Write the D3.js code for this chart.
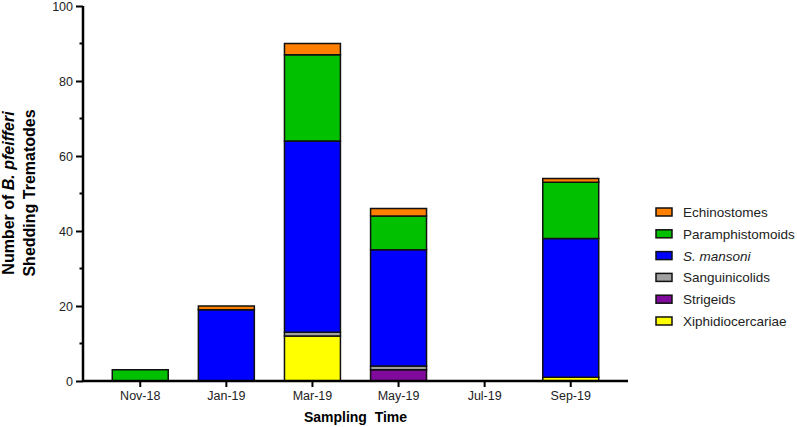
<!DOCTYPE html>
<html>
<head>
<meta charset="utf-8">
<script src="https://cdn.jsdelivr.net/npm/d3@7"></script>
<style>
  body { margin: 0; background: #fff; }
  text { font-family: "Liberation Sans", Arial, sans-serif; }
</style>
</head>
<body>
<div id="chart"></div>
<script>
"use strict";

// sampling months and trematode counts per group
const months = ["Nov-18", "Jan-19", "Mar-19", "May-19", "Jul-19", "Sep-19"];
const groups = ["Xiphidiocercariae", "Strigeids", "Sanguinicolids", "S. mansoni", "Paramphistomoids", "Echinostomes"];
const xiphidio = [0, 0, 12, 0, 0, 1];
const strigeids = [0, 0, 0, 3, 0, 0];
const sanguini = [0, 0, 1, 1, 0, 0];
const mansoni = [0, 19, 51, 31, 0, 37];
const paramph = [3, 0, 23, 9, 0, 15];
const echino = [0, 1, 3, 2, 0, 1];
const yTicks = [0, 20, 40, 60, 80, 100];
const yMinor = [10, 30, 50, 70, 90];

const colors = {
  "Xiphidiocercariae": "#ffff00",
  "Strigeids": "#7f0a9c",
  "Sanguinicolids": "#a0a0a0",
  "S. mansoni": "#0000ff",
  "Paramphistomoids": "#00c000",
  "Echinostomes": "#ff8000"
};

const seriesVals = [xiphidio, strigeids, sanguini, mansoni, paramph, echino];
const table = months.map((m, i) => {
  const row = { month: m };
  groups.forEach((g, k) => row[g] = seriesVals[k][i]);
  return row;
});

const W = 797, H = 427;
const margin = { top: 6, right: 169, bottom: 46, left: 83 };

const svg = d3.select("#chart").append("svg")
  .attr("width", W).attr("height", H);

const x = d3.scaleBand().domain(months)
  .range([margin.left, W - margin.right])
  .paddingInner(0.35).paddingOuter(0.34);
const y = d3.scaleLinear().domain([0, 100]).range([H - margin.bottom, margin.top]);

const stack = d3.stack().keys(groups)(table);

svg.append("g").selectAll("g")
  .data(stack)
  .join("g")
  .attr("fill", d => colors[d.key])
  .selectAll("rect")
  .data(d => d.filter(p => p[1] - p[0] > 0))
  .join("rect")
  .attr("x", d => x(d.data.month))
  .attr("y", d => y(d[1]))
  .attr("width", x.bandwidth())
  .attr("height", d => y(d[0]) - y(d[1]))
  .attr("stroke", "#111")
  .attr("stroke-width", 1.5);

// axes
const yAxis = svg.append("g")
  .attr("transform", `translate(${margin.left},0)`)
  .call(d3.axisLeft(y).tickValues(yTicks).tickSize(7).tickPadding(3));
yAxis.select(".domain").attr("stroke-width", 2.5).attr("d", `M0,${y(100)}V${y(0)}`);
yAxis.selectAll(".tick line").attr("stroke-width", 2);
yAxis.selectAll(".tick text").attr("font-size", 12.5).attr("fill", "#222");

svg.append("g").selectAll("line")
  .data(yMinor)
  .join("line")
  .attr("x1", margin.left - 3.5).attr("x2", margin.left)
  .attr("y1", d => y(d)).attr("y2", d => y(d))
  .attr("stroke", "#000").attr("stroke-width", 2);

const xAxis = svg.append("g")
  .attr("transform", `translate(0,${y(0)})`)
  .call(d3.axisBottom(x).tickSize(6).tickPadding(4));
xAxis.select(".domain").attr("stroke-width", 2.5).attr("d", `M${margin.left},0H${W - margin.right}`);
xAxis.selectAll(".tick line").attr("stroke-width", 2);
xAxis.selectAll(".tick text").attr("font-size", 12.5).attr("fill", "#222");

// axis titles
svg.append("text")
  .attr("x", (margin.left + W - margin.right) / 2)
  .attr("y", 422)
  .attr("text-anchor", "middle")
  .attr("font-size", 14).attr("font-weight", "bold")
  .attr("xml:space", "preserve")
  .text("Sampling  Time");

const yt = svg.append("text")
  .attr("transform", "translate(0,193) rotate(-90)")
  .attr("text-anchor", "middle")
  .attr("font-size", 16).attr("font-weight", "bold");
const l1 = yt.append("tspan").attr("x", 0).attr("y", 14);
l1.append("tspan").text("Number of ");
l1.append("tspan").attr("font-style", "italic").text("B. pfeifferi");
yt.append("tspan").attr("x", 0).attr("y", 35).text("Shedding Trematodes");

// legend
const legend = svg.append("g").attr("transform", "translate(656,212)");
const item = legend.selectAll("g")
  .data(groups.slice().reverse())
  .join("g")
  .attr("transform", (d, i) => `translate(0,${i * 21.8})`);
item.append("rect")
  .attr("x", 0).attr("y", -4)
  .attr("width", 16).attr("height", 8)
  .attr("fill", d => colors[d])
  .attr("stroke", "#111").attr("stroke-width", 1.5);
item.append("text")
  .attr("x", 27).attr("y", 5)
  .attr("font-size", 13.5)
  .attr("fill", "#222")
  .attr("font-style", d => d === "S. mansoni" ? "italic" : "normal")
  .text(d => d);
</script>
</body>
</html>
